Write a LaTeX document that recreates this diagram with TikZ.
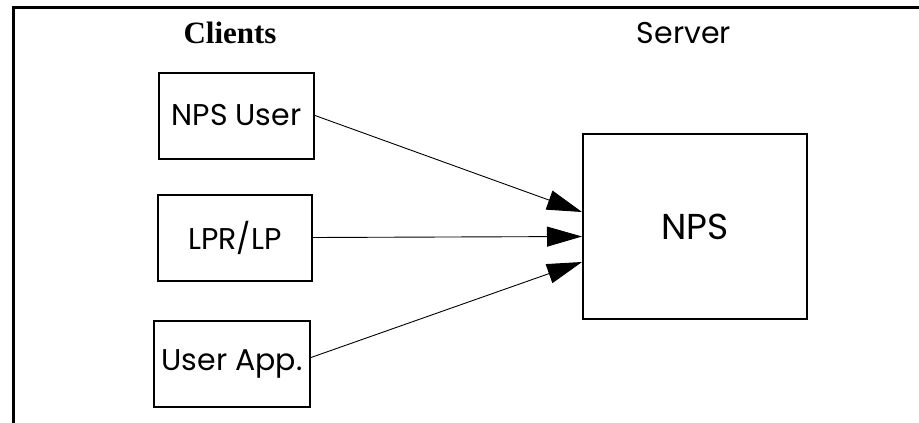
\documentclass[tikz,border=0pt]{standalone}
\usepackage{fontspec}
\setmainfont{Liberation Serif}
\newfontfamily\gothic{Poppins}
\usetikzlibrary{arrows.meta, positioning}

\begin{document}
\begin{tikzpicture}[
    x=1pt, y=-1pt,
    client/.style={rectangle, draw, line width=2pt, inner sep=0pt, minimum height=86pt, font=\gothic\fontsize{30}{36}\selectfont},
    server/.style={rectangle, draw, line width=2pt, inner sep=0pt, minimum width=224pt, minimum height=185pt, font=\gothic\fontsize{36}{43}\selectfont},
    heading/.style={inner sep=0pt},
    flow/.style={-{Triangle[length=35pt, width=20pt]}, line width=0.9pt},
    frame/.style={line width=3pt}
  ]
  \useasboundingbox (0,0) rectangle (919,423);

  % outer frame (top and left only)
  \coordinate (ftop) at (919,7.5);
  \coordinate (fcorner) at (13.5,7.5);
  \coordinate (fbottom) at (13.5,423);
  \draw[frame] (ftop) -- (fcorner) -- (fbottom);

  \node[heading, font=\bfseries\fontsize{31}{36}\selectfont] (hcl) at (230,33) {Clients};
  \node[heading, font=\gothic\fontsize{30}{36}\selectfont] (hsrv) at (684,33) {Server};

  \node[client, minimum width=155pt] (c1) at (236.5,115.5) {NPS User};
  \node[client, minimum width=154pt] (c2) at (235,237.5) {LPR/LP};
  \node[client, minimum width=156pt] (c3) at (232,363.5) {User App.};
  \node[server] (srv) at (695,226.5) {NPS};

  \draw[flow] (c1.east) -- ([yshift=14.5pt]srv.west);
  \draw[flow] (c2.east) -- ([yshift=-10pt]srv.west);
  \draw[flow] ([yshift=6pt]c3.east) -- ([yshift=-35.5pt]srv.west);
\end{tikzpicture}
\end{document}
